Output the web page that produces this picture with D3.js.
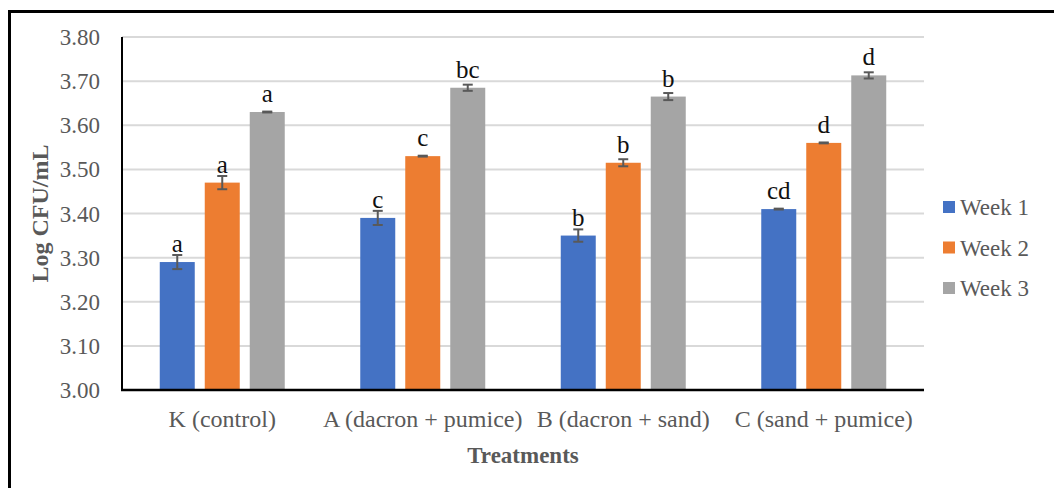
<!DOCTYPE html>
<html>
<head>
  <meta charset="UTF-8">
  <style>
    body { margin: 0; background: #fff; }
    svg { display: block; }
  </style>
</head>
<body>
<svg></svg>
<script src="https://d3js.org/d3.v7.min.js"></script>

<script>

// data
const categories = ["K (control)", "A (dacron + pumice)", "B (dacron + sand)", "C (sand + pumice)"];
const seriesNames = ["Week 1", "Week 2", "Week 3"];
const week1 = [3.29, 3.39, 3.35, 3.41];
const week2 = [3.47, 3.53, 3.515, 3.56];
const week3 = [3.63, 3.685, 3.665, 3.713];
const err1 = [0.016, 0.016, 0.014, 0.001];
const err2 = [0.015, 0.001, 0.008, 0.001];
const err3 = [0.001, 0.007, 0.008, 0.007];
const letters1 = ["a", "c", "b", "cd"];
const letters2 = ["a", "c", "b", "d"];
const letters3 = ["a", "bc", "b", "d"];
const colors = ["#4472C4", "#ED7D31", "#A5A5A5"];

let width = 1054, height = 488;

let svg = d3.select("svg")
    .attr("width", width)
    .attr("height", height)
    .attr("font-family", "Liberation Serif");

// outer frame (only top + left edges show in the picture)
svg.append("line").attr("x1", 9).attr("x2", width).attr("y1", 11.5).attr("y2", 11.5)
    .attr("stroke", "black").attr("stroke-width", 3);
svg.append("line").attr("x1", 9.5).attr("x2", 9.5).attr("y1", 10).attr("y2", height)
    .attr("stroke", "black").attr("stroke-width", 3);

let plot = { left: 122, right: 924, top: 37, bottom: 390 };

let y = d3.scaleLinear().domain([3.0, 3.8]).range([plot.bottom, plot.top]);

let x0 = d3.scaleBand().domain(categories).range([plot.left, plot.right]).padding(0);
let x1 = d3.scaleBand().domain(seriesNames).range([0, x0.bandwidth()])
    .paddingInner(10 / 45).paddingOuter(0.839);

// gridlines
svg.append("g")
    .selectAll("line")
    .data(y.ticks(8).slice(1))
    .enter()
    .append("line")
    .attr("x1", plot.left).attr("x2", plot.right)
    .attr("y1", d => y(d)).attr("y2", d => y(d))
    .attr("stroke", "#d9d9d9").attr("stroke-width", 2);

// tick labels
svg.append("g")
    .selectAll("text")
    .data(y.ticks(8))
    .enter()
    .append("text")
    .attr("x", 100).attr("y", d => y(d))
    .attr("dy", "0.35em")
    .attr("text-anchor", "end")
    .attr("font-size", 23)
    .attr("fill", "#595959")
    .text(d3.format(".2f"));

let rows = [];
[week1, week2, week3].forEach((vals, s) => {
  let errs = [err1, err2, err3][s], letters = [letters1, letters2, letters3][s];
  vals.forEach((v, i) => rows.push({ cat: categories[i], series: seriesNames[s], s: s, v: v, e: errs[i], l: letters[i] }));
});

let cx = d => x0(d.cat) + x1(d.series) + x1.bandwidth() / 2;

// bars
svg.append("g")
    .selectAll("rect")
    .data(rows)
    .enter()
    .append("rect")
    .attr("x", d => x0(d.cat) + x1(d.series))
    .attr("y", d => y(d.v))
    .attr("width", x1.bandwidth())
    .attr("height", d => plot.bottom - y(d.v))
    .attr("fill", d => colors[d.s]);

// error bars
let eb = svg.append("g").attr("stroke", "#595959").attr("stroke-width", 2);
rows.forEach(d => {
  let t = y(d.v + d.e), b = y(d.v - d.e), c = cx(d);
  eb.append("line").attr("x1", c).attr("x2", c).attr("y1", t).attr("y2", b);
  eb.append("line").attr("x1", c - 5).attr("x2", c + 5).attr("y1", t).attr("y2", t);
  eb.append("line").attr("x1", c - 5).attr("x2", c + 5).attr("y1", b).attr("y2", b);
});

// significance letters
svg.append("g")
    .selectAll("text")
    .data(rows)
    .enter()
    .append("text")
    .attr("x", cx)
    .attr("y", d => y(d.v) - 10)
    .attr("text-anchor", "middle")
    .attr("font-size", 25)
    .attr("fill", "#111")
    .text(d => d.l);

// axes lines
svg.append("line").attr("x1", plot.left).attr("x2", plot.left).attr("y1", plot.top).attr("y2", plot.bottom + 1)
    .attr("stroke", "black").attr("stroke-width", 2);
svg.append("line").attr("x1", plot.left - 1).attr("x2", plot.right).attr("y1", plot.bottom).attr("y2", plot.bottom)
    .attr("stroke", "black").attr("stroke-width", 2.5);

// category labels
svg.append("g")
    .selectAll("text")
    .data(categories)
    .enter()
    .append("text")
    .attr("x", d => x0(d) + x0.bandwidth() / 2)
    .attr("y", 427)
    .attr("text-anchor", "middle")
    .attr("font-size", 24)
    .attr("fill", "#595959")
    .text(d => d);

// axis titles
svg.append("text")
    .attr("x", (plot.left + plot.right) / 2).attr("y", 463)
    .attr("text-anchor", "middle")
    .attr("font-size", 23).attr("font-weight", "bold")
    .attr("fill", "#595959")
    .text("Treatments");

svg.append("text")
    .attr("transform", "translate(48," + (plot.top + plot.bottom) / 2 + ") rotate(-90)")
    .attr("text-anchor", "middle")
    .attr("font-size", 24).attr("font-weight", "bold")
    .attr("fill", "#595959")
    .text("Log CFU/mL");

// legend
let legend = svg.append("g")
    .selectAll("g")
    .data(seriesNames)
    .enter()
    .append("g")
    .attr("transform", (d, i) => "translate(943," + (207 + i * 40.5) + ")");

legend.append("rect")
    .attr("x", 0).attr("y", -6).attr("width", 12).attr("height", 12)
    .attr("fill", (d, i) => colors[i]);

legend.append("text")
    .attr("x", 17).attr("dy", "0.35em")
    .attr("font-size", 23)
    .attr("fill", "#595959")
    .text(d => d);

</script>

</body>
</html>
